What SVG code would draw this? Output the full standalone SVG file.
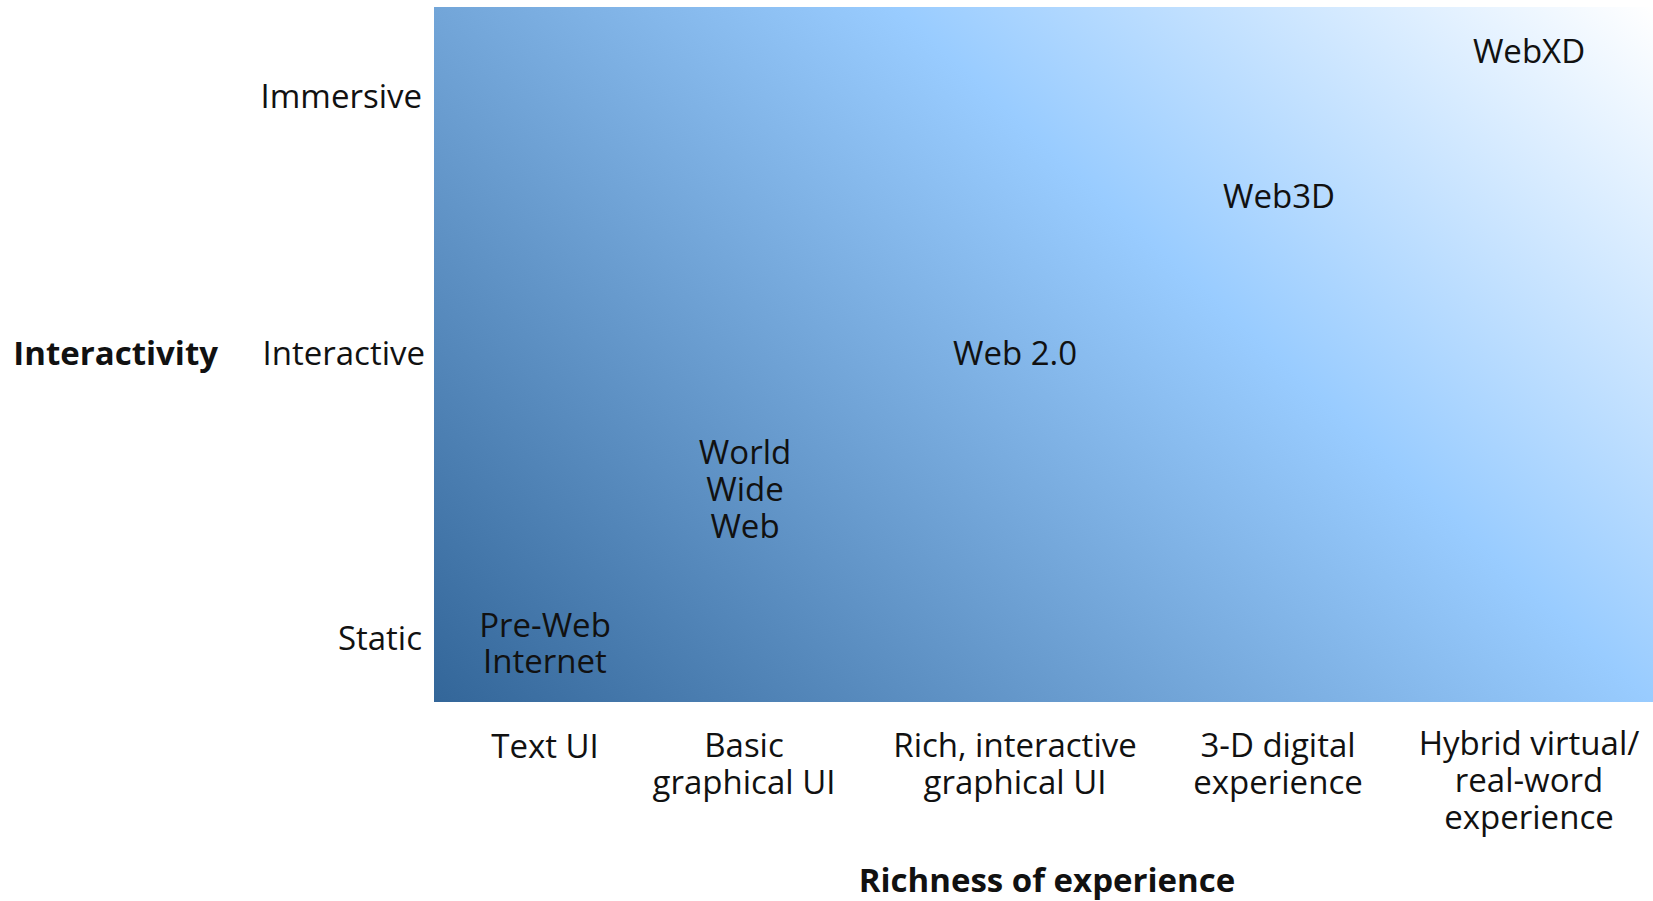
<svg xmlns="http://www.w3.org/2000/svg" width="1653" height="901" viewBox="0 0 1653 901">
<style>
text{font-family:"Open Sans","Noto Sans",sans-serif;font-size:33px;fill:#111;text-anchor:middle}
.b{font-weight:bold}
.r{text-anchor:end}
</style>
<defs>
<linearGradient id="g" gradientUnits="userSpaceOnUse" x1="434" y1="702" x2="1337" y2="-283">
<stop offset="0" stop-color="#336699"/>
<stop offset="0.617" stop-color="#99ccff"/>
<stop offset="1" stop-color="#ffffff"/>
</linearGradient>
</defs>
<rect id="bg" x="434" y="7" width="1219" height="695" fill="url(#g)"/>
<g id="axis-y">
<text class="b r" x="218" y="365">Interactivity</text>
<text class="r" x="422" y="108">Immersive</text>
<text class="r" x="425" y="365">Interactive</text>
<text class="r" x="422" y="650">Static</text>
</g>
<g id="axis-x">
<text x="545" y="758">Text UI</text>
<text x="744" y="757">Basic</text><text x="744" y="794">graphical UI</text>
<text x="1015" y="757">Rich, interactive</text><text x="1015" y="794">graphical UI</text>
<text x="1278" y="757">3-D digital</text><text x="1278" y="794">experience</text>
<text x="1529" y="755">Hybrid virtual/</text><text x="1529" y="792">real-word</text><text x="1529" y="829">experience</text>
<text class="b" x="1047" y="892">Richness of experience</text>
</g>
<g id="n-preweb"><text x="545" y="637">Pre-Web</text><text x="545" y="673">Internet</text></g>
<g id="n-www"><text x="745" y="464">World</text><text x="745" y="501">Wide</text><text x="745" y="538">Web</text></g>
<g id="n-web20"><text x="1015" y="365">Web 2.0</text></g>
<g id="n-web3d"><text x="1279" y="208">Web3D</text></g>
<g id="n-webxd"><text x="1529" y="63">WebXD</text></g>
<g id="connectors"></g>
</svg>
